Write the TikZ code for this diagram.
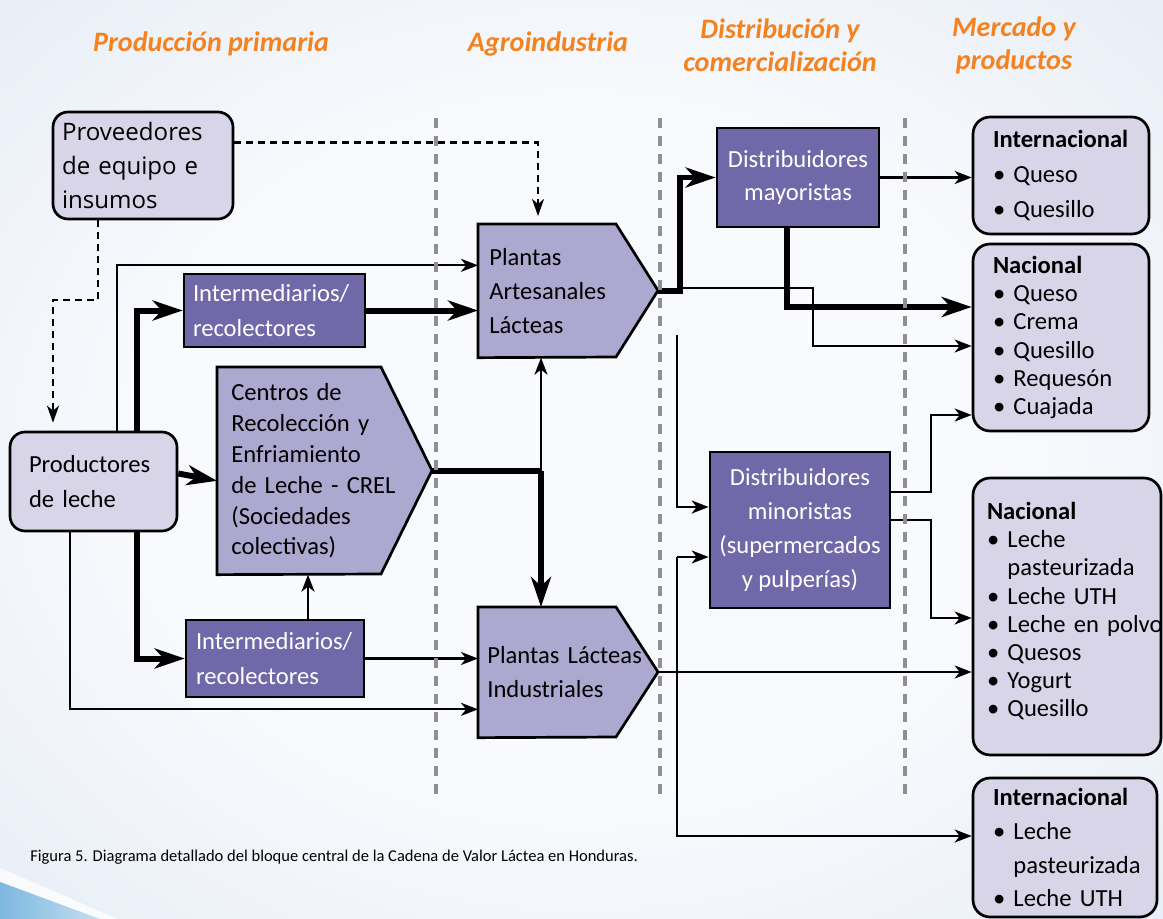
\documentclass[tikz,border=0pt]{standalone}
\usepackage{fontspec}
\setmainfont{Carlito}
\newfontfamily\suppliersfont{Open Sans}
\usetikzlibrary{arrows.meta,calc,backgrounds}

\definecolor{bgouter}{HTML}{D8E3F1}
\definecolor{bginner}{HTML}{F9FAFD}
\definecolor{palebox}{HTML}{D8D5E8}
\definecolor{deepbox}{HTML}{7068A9}
\definecolor{softbox}{HTML}{ACA8CF}
\definecolor{headorange}{HTML}{F5821F}
\definecolor{divgray}{HTML}{8F8F8F}
\definecolor{cornerblue}{HTML}{7DB8E0}

\pgfdeclareradialshading{paper}{\pgfpoint{0bp}{0bp}}{%
  color(0bp)=(bginner); color(18bp)=(bginner); color(52bp)=(bgouter); color(75bp)=(bgouter)}

\begin{document}
\begin{tikzpicture}[x=0.02cm,y=-0.02cm,
  boxline/.style={draw=black,line width=0.054cm},
  pale/.style={boxline,fill=palebox,rounded corners=0.3cm,inner ysep=0pt},
  market/.style={pale,rounded corners=0.34cm,align=left},
  deep/.style={boxline,fill=deepbox,text=white,inner ysep=0pt},
  body/.style={inner ysep=0pt,align=left,anchor=north west},
  txt/.style={font=\fontsize{14}{19.5}\selectfont},
  thinarrow/.style={line width=0.046cm,-{Stealth[length=0.34cm,width=0.26cm,inset=0.1cm]}},
  thickarrow/.style={line width=0.12cm,-{Stealth[length=0.6cm,width=0.4cm,inset=0.18cm]}},
  thickline/.style={line width=0.12cm},
  dasharrow/.style={line width=0.046cm,dash pattern=on 0.14cm off 0.1cm,
    -{Stealth[length=0.34cm,width=0.24cm,inset=0.1cm]},shorten >=0.16cm},
  divider/.style={draw=divgray,line width=0.08cm,dash pattern=on 0.2cm off 0.16cm},
  heading/.style={text=headorange,font=\fontsize{16}{18.7}\selectfont\bfseries\itshape,align=center}
]
\useasboundingbox (0,0) rectangle (1163,919);

% column headings
\node[heading] (hprod) at (211,44) {Producción primaria};
\node[heading] (hagro) at (548,44) {Agroindustria};
\node[heading] (hdist) at (780,45) {Distribución y\\comercialización};
\node[heading] (hmerc) at (1014,45) {Mercado y\\productos};

% primary production
\node[pale,font=\suppliersfont\fontsize{13.7}{19.3}\selectfont,align=left,
  text width=3.24cm,inner xsep=0.18cm,minimum height=2.14cm] (prov) at (143,165.5)
  {Proveedores\\de equipo e\\insumos};
\node[pale,txt,align=left,text width=2.58cm,inner xsep=0.38cm,minimum height=1.98cm]
  (prod) at (93.5,481.5) {Productores\\de leche};
\node[deep,txt,align=left,text width=3.26cm,inner xsep=0.18cm,minimum height=1.46cm]
  (intA) at (274.5,310.5) {Intermediarios/\\recolectores};
\node[deep,txt,align=left,text width=3.16cm,inner xsep=0.2cm,minimum height=1.54cm]
  (intB) at (275,658.5) {Intermediarios/\\recolectores};
\node[body,font=\fontsize{14}{17.6}\selectfont,minimum height=4.14cm,text width=3.6cm,
  inner xsep=0.28cm] (crel) at (217,367)
  {Centros de\\Recolección y\\Enfriamiento\\de Leche - CREL\\(Sociedades\\colectivas)};

% agroindustry
\node[body,txt,minimum height=2.66cm,text width=3.2cm,inner xsep=0.22cm]
  (art) at (478,224) {Plantas\\Artesanales\\Lácteas};
\node[body,txt,minimum height=2.6cm,text width=3.4cm,inner xsep=0.18cm]
  (ind) at (478,607) {Plantas Lácteas\\Industriales};

% distribution
\node[deep,font=\fontsize{14}{18.7}\selectfont,align=center,minimum width=3.24cm,
  minimum height=1.98cm] (may) at (798,177.5) {Distribuidores\\mayoristas};
\node[deep,font=\fontsize{14}{19.4}\selectfont,align=center,minimum width=3.6cm,
  minimum height=3.12cm] (min) at (800,530)
  {Distribuidores\\minoristas\\(supermercados\\y pulperías)};

% markets and products
\node[market,font=\fontsize{14}{19.8}\selectfont,text width=2.72cm,inner xsep=0.4cm,
  minimum height=2.34cm] (intl1) at (1061,175.5)
  {\textbf{Internacional}\\•~Queso\\•~Quesillo};
\node[market,font=\fontsize{14}{16}\selectfont,text width=2.72cm,inner xsep=0.4cm,
  minimum height=3.74cm] (nacA) at (1061,337.5)
  {\textbf{Nacional}\\•~Queso\\•~Crema\\•~Quesillo\\•~Requesón\\•~Cuajada};
\node[market,font=\fontsize{14}{16}\selectfont,text width=3.2cm,inner xsep=0.28cm,
  minimum height=5.54cm] (nacB) at (1067,616.5)
  {\textbf{Nacional}\\•~Leche\\\phantom{•~}pasteurizada\\•~Leche~UTH\\•~Leche~en~polvo\\%
   •~Quesos\\•~Yogurt\\•~Quesillo\rule[-8pt]{0pt}{8pt}};
\node[market,font=\fontsize{14}{19.3}\selectfont,text width=2.88cm,inner xsep=0.4cm,
  minimum height=2.78cm] (intl2) at (1065,847.5)
  {\textbf{Internacional}\\•~Leche\\\phantom{•~}pasteurizada\\•~Leche~UTH};

% caption
\node[anchor=west,inner sep=0pt,font=\fontsize{9.4}{11}\selectfont] (caption) at (30,857)
  {Figura 5. Diagrama detallado del bloque central de la Cadena de Valor Láctea en Honduras.};

% pointer tips of the pentagon boxes
\coordinate (arttip) at ($(art.north west)+(180,66.5)$);
\coordinate (creltip) at ($(crel.north west)+(215,103.5)$);
\coordinate (indtip) at ($(ind.north west)+(180,65)$);

% background, corner swoosh and pentagon bodies
\begin{scope}[on background layer]
  \shade[shading=paper] (0,0) rectangle (1163,919);
  \fill[white,opacity=0.75] (0,868) -- (118,919) -- (100,919) -- (0,882) -- cycle;
  \shade[left color=cornerblue,right color=cornerblue!45!white] (0,882) -- (100,919) -- (0,919) -- cycle;
  \filldraw[boxline,fill=softbox] (art.north west) -- ++(138,0) -- (arttip)
    -- ++(-42,66.5) -- (art.south west) -- cycle;
  \filldraw[boxline,fill=softbox] (crel.north west) -- ++(164,0) -- (creltip)
    -- ++(-51,103.5) -- (crel.south west) -- cycle;
  \filldraw[boxline,fill=softbox] (ind.north west) -- ++(138,0) -- (indtip)
    -- ++(-42,65) -- (ind.south west) -- cycle;
\end{scope}

% supplier links
\coordinate (d1) at (53,300);
\coordinate (d2) at (538,0);
\draw[dasharrow] ([xshift=-0.9cm]prov.south) |- (d1) -- (d1 |- prod.north);
\draw[dasharrow] ([yshift=0.46cm]prov.east) -| (d2 |- art.north);

% producers to collectors and plants
\draw[thinarrow] ([xshift=0.47cm]prod.north) |- ([yshift=0.51cm]art.west);
\draw[thickarrow] ([xshift=0.87cm]prod.north) |- (intA.west);
\draw[thickarrow] (intA.east) -- (intA.east -| art.west);
\draw[thickarrow] ([yshift=0.16cm]prod.east) -- ([yshift=-0.2cm]crel.west);
\draw[thickarrow] ([xshift=0.87cm]prod.south) |- (intB.west);
\draw[thinarrow] ([xshift=-0.47cm]prod.south) |- ([yshift=-0.74cm]ind.west);
\coordinate (ib1) at ([xshift=0.66cm]intB.north);
\draw[thinarrow] (ib1) -- (ib1 |- crel.south);
\draw[thinarrow] (intB.east) -- (intB.east -| ind.west);

% collection centres to the plants
\coordinate (jx) at (541,0);
\draw[thickline] (creltip) -- (creltip -| jx);
\draw[thickarrow] (creltip -| jx) -- (jx |- ind.north);
\draw[thinarrow] (creltip -| jx) -- (jx |- art.south);

% artisanal plants outputs
\draw[thickarrow] (arttip) -- ++(22,0) |- (may.west);
\coordinate (a1) at (680,288);
\coordinate (a2) at (813,346);
\draw[thinarrow] (a1) -| (a2) -- (a2 -| nacA.west);
\coordinate (f1) at (677,335);
\draw[thinarrow] (f1) |- ([yshift=0.46cm]min.west);

% wholesalers
\draw[thinarrow] (may.east) -- (may.east -| intl1.west);
\draw[thickarrow] ([xshift=-0.22cm]may.south) |- ([yshift=0.61cm]nacA.west);

% retailers
\coordinate (m1) at (931,415);
\coordinate (m2) at (931,618);
\draw[thinarrow] ([yshift=0.76cm]min.east) -| (m1) -- (m1 -| nacA.west);
\draw[thinarrow] ([yshift=0.2cm]min.east) -| (m2) -- (m2 -| nacB.west);

% industrial plants outputs
\draw[thinarrow] (indtip) -- (indtip -| nacB.west);
\coordinate (f2) at (677,557);
\draw[thinarrow] (f2) -- (f2 -| min.west);
\draw[thinarrow] (f2) |- ([yshift=0.23cm]intl2.west);

% stage dividers
\draw[divider] (436,118) -- (436,800);
\draw[divider] (660,118) -- (660,800);
\draw[divider] (905,118) -- (905,800);
\end{tikzpicture}
\end{document}
